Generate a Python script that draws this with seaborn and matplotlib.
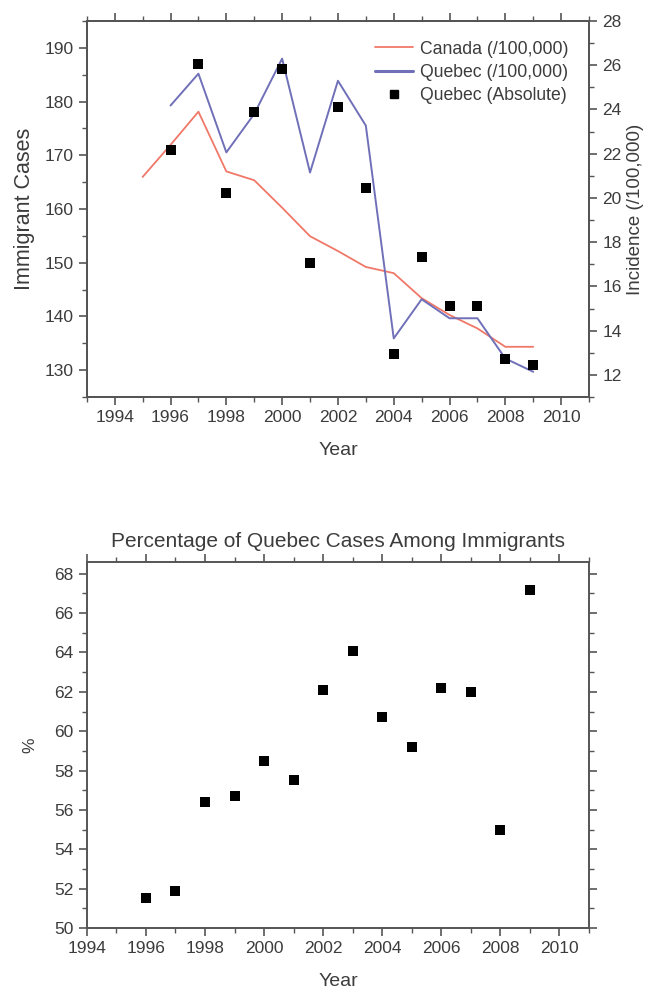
import matplotlib
matplotlib.use("Agg")
import matplotlib.pyplot as plt
import seaborn as sns
from matplotlib.ticker import MultipleLocator
from matplotlib.lines import Line2D

# ---- data ----
canada_years = [1995, 1996, 1997, 1998, 1999, 2000, 2001, 2002, 2003, 2004, 2005, 2006, 2007, 2008, 2009]
canada_rate = [20.95, 22.4, 23.9, 21.2, 20.8, 19.56, 18.27, 17.6, 16.88, 16.6, 15.47, 14.71, 14.1, 13.27, 13.27]

quebec_years = [1996, 1997, 1998, 1999, 2000, 2001, 2002, 2003, 2004, 2005, 2006, 2007, 2008, 2009]
quebec_rate = [24.18, 25.62, 22.06, 23.8, 26.3, 21.15, 25.3, 23.27, 13.65, 15.42, 14.56, 14.56, 12.74, 12.14]
quebec_abs = [171, 187, 163, 178, 186, 150, 179, 164, 133, 151, 142, 142, 132, 131]

pct_years = [1996, 1997, 1998, 1999, 2000, 2001, 2002, 2003, 2004, 2005, 2006, 2007, 2008, 2009]
quebec_pct = [51.5, 51.9, 56.4, 56.7, 58.5, 57.5, 62.1, 64.1, 60.7, 59.2, 62.2, 62.0, 55.0, 67.2]

labels = ["Canada (/100,000)", "Quebec (/100,000)", "Quebec (Absolute)"]

# ---- style ----
sns.set_style("ticks")
plt.rcParams['font.family'] = ['Liberation Sans', 'DejaVu Sans']
TXT = '#3c3c3c'
SPINE = '#555555'
RED = '#f07868'
BLUE = '#7070b8'
FS = 12.5

fig = plt.figure(figsize=(6.48, 9.92), dpi=100)


def style_axis(ax, right=True, top=True):
    for s in ax.spines.values():
        s.set_color(SPINE)
        s.set_linewidth(1.4)
        s.set_visible(True)
    ax.tick_params(which='major', direction='out', length=6, width=1.2,
                   color=SPINE, labelcolor=TXT, labelsize=FS,
                   top=top, right=right)
    ax.tick_params(which='minor', direction='out', length=3.5, width=1.0,
                   color=SPINE, top=top, right=right)


# ---- top panel ----
ax1 = fig.add_axes([0.134, 0.5998, 0.775, 0.379])
ax2 = ax1.twinx()

sns.lineplot(x=canada_years, y=canada_rate, ax=ax2, color=RED, lw=1.3, legend=False)
sns.lineplot(x=quebec_years, y=quebec_rate, ax=ax2, color=BLUE, lw=1.4, legend=False)
sns.scatterplot(x=quebec_years, y=quebec_abs, ax=ax1, marker='s', s=44,
                color='black', edgecolor='black', linewidth=0, legend=False, zorder=5)

ax1.set_zorder(ax2.get_zorder() + 1)
ax1.patch.set_visible(False)

ax1.set_xlim(1993, 2011)
ax1.set_ylim(125, 195)
ax2.set_ylim(11, 28)
ax1.xaxis.set_major_locator(MultipleLocator(2))
ax1.xaxis.set_minor_locator(MultipleLocator(1))
ax1.yaxis.set_major_locator(MultipleLocator(10))
ax1.yaxis.set_minor_locator(MultipleLocator(5))
ax2.yaxis.set_major_locator(MultipleLocator(2))
ax2.yaxis.set_minor_locator(MultipleLocator(1))

style_axis(ax1, right=False, top=True)
style_axis(ax2, right=True, top=False)
ax2.tick_params(axis='y', which='both', left=False, labelleft=False, right=True, labelright=True)

ax1.set_xlabel("Year", fontsize=14, color=TXT, labelpad=12)
ax1.set_ylabel("Immigrant Cases", fontsize=15.5, color=TXT, labelpad=7)
ax2.set_ylabel("Incidence (/100,000)", fontsize=13.5, color=TXT, labelpad=4, rotation=90)

handles = [
    Line2D([], [], color=RED, lw=1.3),
    Line2D([], [], color=BLUE, lw=2.2),
    Line2D([], [], color='black', marker='s', ms=6, lw=0),
]
leg = ax1.legend(handles, labels, loc='upper right', frameon=False, fontsize=12.7,
                 handlelength=2.15, handletextpad=0.4, labelspacing=0.35,
                 bbox_to_anchor=(0.99, 0.99))
for t in leg.get_texts():
    t.set_color(TXT)

# ---- bottom panel ----
ax3 = fig.add_axes([0.134, 0.0645, 0.775, 0.369])
sns.scatterplot(x=pct_years, y=quebec_pct, ax=ax3, marker='s', s=44,
                color='black', edgecolor='black', linewidth=0, legend=False, zorder=5)
ax3.set_xlim(1994, 2011)
ax3.set_ylim(50, 68.6)
ax3.xaxis.set_major_locator(MultipleLocator(2))
ax3.xaxis.set_minor_locator(MultipleLocator(1))
ax3.yaxis.set_major_locator(MultipleLocator(2))
ax3.yaxis.set_minor_locator(MultipleLocator(1))
style_axis(ax3, right=True, top=True)
ax3.set_xlabel("Year", fontsize=14, color=TXT, labelpad=12)
ax3.set_ylabel("%", fontsize=12.5, color=TXT, labelpad=12)
ax3.set_title("Percentage of Quebec Cases Among Immigrants", fontsize=15, color=TXT, pad=11)

fig.savefig("out.png", dpi=100)
